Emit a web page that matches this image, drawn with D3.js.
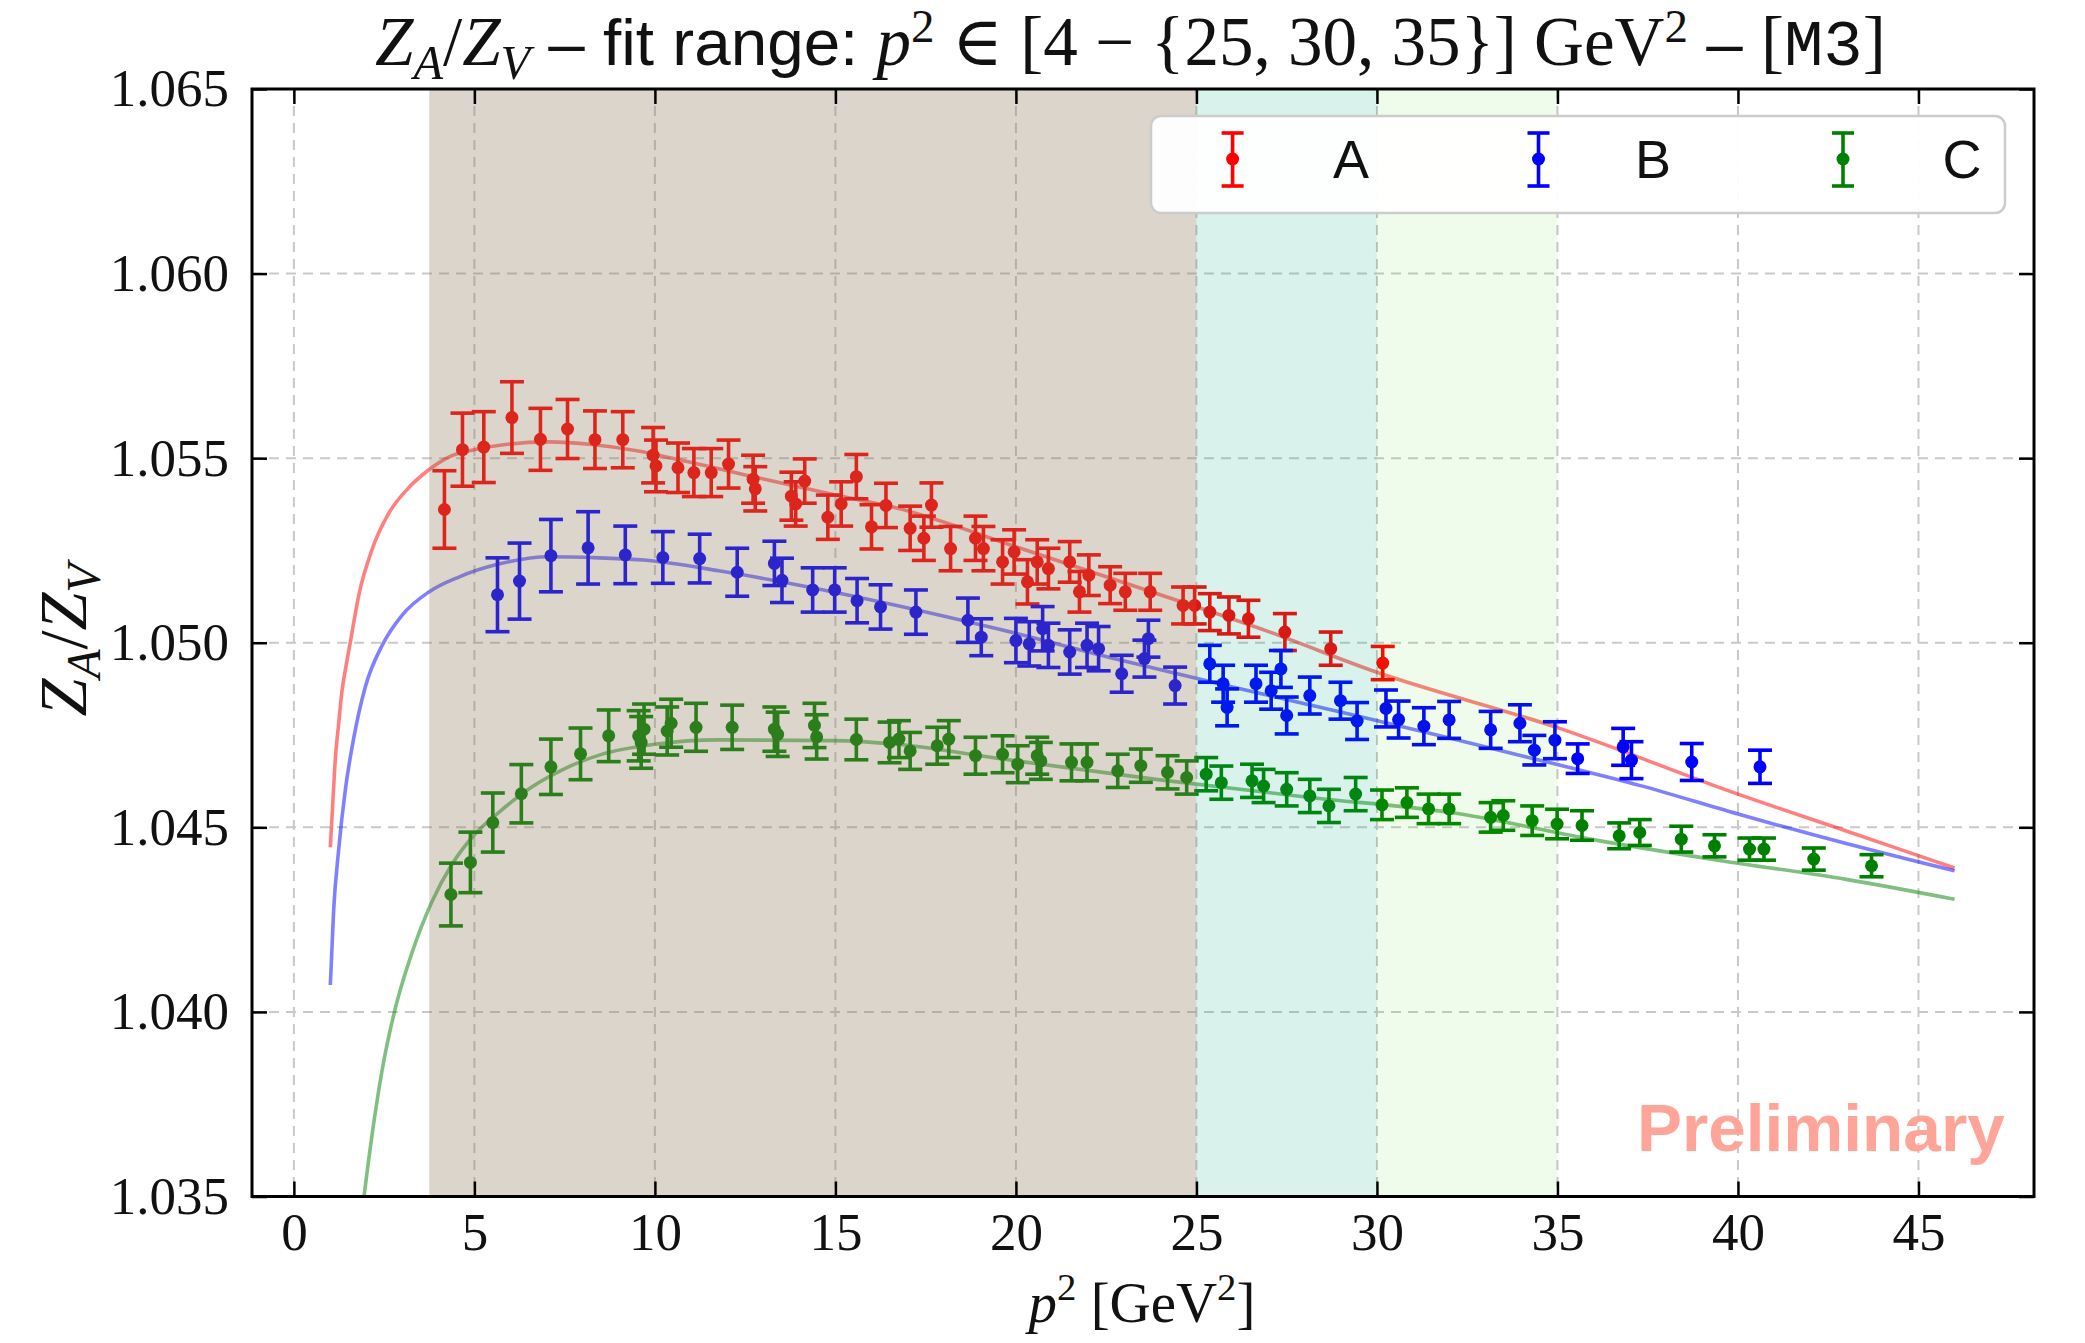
<!DOCTYPE html>
<html><head><meta charset="utf-8">
<script src="https://cdn.jsdelivr.net/npm/d3@7"></script>
<style>body{margin:0;background:#fff} text{white-space:pre}</style>
</head><body>
<svg id="chart" width="2085" height="1343"></svg>
<script>
// ---------- data ----------
const p2Ticks = [0,5,10,15,20,25,30,35,40,45];
const zTicks = [1.035,1.040,1.045,1.050,1.055,1.060,1.065];
const seriesLabels = ["A","B","C"];
const fitStart = 3.75;
const fitEnds = [25,30,35];

// [p^2, Z_A/Z_V, error]
const pointsA = [
[4.17,1.05361,0.00105],[4.67,1.05523,0.00099],[5.26,1.0553,0.00096],[6.04,1.0561,0.00097],
[6.83,1.05551,0.00084],[7.58,1.05579,0.0008],[8.34,1.0555,0.00078],[9.11,1.0555,0.00076],
[9.95,1.05508,0.00075],[10.03,1.05479,0.0007],[10.64,1.05474,0.00067],[11.08,1.05461,0.00065],
[11.56,1.05461,0.00065],[12.04,1.05484,0.00065],[12.72,1.05443,0.00065],[12.78,1.05417,0.0006],
[13.78,1.05397,0.00065],[13.9,1.05376,0.0006],[14.15,1.05438,0.0006],[14.79,1.0534,0.0006],
[15.16,1.05376,0.0006],[15.58,1.0545,0.0006],[16.0,1.05314,0.0006],[16.4,1.05372,0.0006],
[17.07,1.0531,0.0006],[17.45,1.05283,0.0006],[17.66,1.05373,0.0006],[18.19,1.05255,0.0006],
[18.88,1.05283,0.0006],[19.1,1.05255,0.0006],[19.63,1.05219,0.0006],[19.95,1.05246,0.0006],
[20.32,1.05165,0.0006],[20.59,1.05219,0.0006],[20.9,1.05201,0.00055],[21.49,1.05219,0.00055],
[21.76,1.05138,0.00055],[22.02,1.05183,0.00055],[22.61,1.05156,0.0005],[23.03,1.05138,0.0005],
[23.72,1.05138,0.0005],[24.63,1.05101,0.0005],[24.95,1.05101,0.0005],[25.37,1.05083,0.0005],
[25.9,1.05074,0.0005],[26.44,1.05065,0.0005],[27.45,1.05029,0.0005],[28.72,1.04984,0.00045],
[30.16,1.04945,0.00045]
];
const pointsB = [
[5.64,1.0513,0.001],[6.25,1.05167,0.00103],[7.12,1.05236,0.00098],[8.15,1.05257,0.00098],
[9.18,1.05238,0.00078],[10.22,1.05231,0.0007],[11.24,1.05228,0.00066],[12.28,1.05191,0.00065],
[13.31,1.05215,0.0006],[13.52,1.05169,0.0006],[14.37,1.05143,0.0006],[14.98,1.05143,0.0006],
[15.6,1.05114,0.0006],[16.25,1.05097,0.0006],[17.23,1.05083,0.0006],[18.67,1.05061,0.0006],
[19.04,1.05015,0.0005],[20.0,1.05006,0.0006],[20.37,1.04997,0.0006],[20.74,1.05038,0.0006],
[20.9,1.04993,0.0006],[21.49,1.04975,0.0006],[21.97,1.04993,0.0006],[22.29,1.04984,0.0006],
[22.93,1.04916,0.0005],[23.56,1.04957,0.0005],[23.67,1.05011,0.0005],[24.41,1.04884,0.0005],
[25.37,1.04943,0.0005],[25.74,1.04889,0.0005],[25.85,1.04825,0.0005],[26.65,1.04889,0.0005],
[27.07,1.0487,0.0005],[27.34,1.04929,0.0005],[27.5,1.04803,0.0005],[28.14,1.04857,0.0005],
[28.99,1.04843,0.0005],[29.45,1.04788,0.0005],[30.25,1.04822,0.0005],[30.6,1.04792,0.0005],
[31.3,1.04774,0.0005],[32.0,1.04791,0.0005],[33.15,1.04764,0.0005],[33.96,1.04782,0.0005],
[34.36,1.04709,0.0004],[34.93,1.04736,0.0005],[35.56,1.04686,0.0004],[36.82,1.04718,0.0005],
[37.05,1.04682,0.0005],[38.72,1.04677,0.0005],[40.61,1.04664,0.00045]
];
const pointsC = [
[4.35,1.04318,0.00085],[4.89,1.04405,0.00082],[5.51,1.04513,0.0008],[6.3,1.04591,0.00079],
[7.12,1.04664,0.00075],[7.94,1.04699,0.0007],[8.72,1.04748,0.0007],[9.55,1.04748,0.00068],
[9.62,1.0473,0.0007],[9.7,1.04766,0.00068],[10.34,1.04761,0.00065],[10.45,1.04782,0.00065],
[11.14,1.04771,0.00065],[12.14,1.04771,0.0006],[13.31,1.04766,0.0006],[13.4,1.04752,0.0006],
[14.42,1.04776,0.0006],[14.48,1.04745,0.0006],[15.58,1.04738,0.00055],[16.5,1.0473,0.00055],
[16.76,1.04739,0.0005],[17.07,1.04707,0.0005],[17.82,1.04721,0.0005],[18.14,1.04739,0.0005],
[18.88,1.04694,0.0005],[19.63,1.04698,0.0005],[20.05,1.04671,0.0005],[20.59,1.04694,0.0005],
[20.69,1.0468,0.0005],[21.54,1.04676,0.0005],[21.97,1.04676,0.0005],[22.82,1.04653,0.00045],
[23.46,1.04667,0.00045],[24.2,1.04649,0.00045],[24.73,1.04635,0.00045],[25.27,1.04644,0.00045],
[25.69,1.04621,0.00045],[26.54,1.04626,0.00045],[26.86,1.04612,0.00045],[27.5,1.04603,0.00045],
[28.14,1.04585,0.00045],[28.67,1.04558,0.00045],[29.41,1.0459,0.00045],[30.14,1.04561,0.0004],
[30.83,1.04567,0.0004],[31.43,1.0455,0.0004],[32.0,1.0455,0.0004],[33.15,1.04527,0.0004],
[33.5,1.04532,0.0004],[34.3,1.04518,0.0004],[34.99,1.04509,0.0004],[35.68,1.04505,0.0004],
[36.71,1.04477,0.00035],[37.28,1.04486,0.00035],[38.43,1.04468,0.00035],[39.35,1.0445,0.0003],
[40.32,1.04441,0.0003],[40.72,1.04441,0.0003],[42.1,1.04414,0.0003],[43.7,1.04396,0.0003]
];

// fit curves [p^2, value]
const fitA = [
[1.01,1.04446],[1.08,1.0457],[1.15,1.04688],[1.24,1.0478],[1.33,1.04867],[1.45,1.0494],
[1.57,1.05005],[1.8,1.0513],[2.17,1.05254],[2.63,1.05351],[3.18,1.0542],[3.73,1.05468],
[4.29,1.05503],[5.0,1.05523],[5.86,1.05537],[7.06,1.05544],[8.26,1.05537],[9.5,1.0552],
[10.7,1.05495],[12.8,1.05448],[15,1.054],[16.7,1.05365],[20,1.0526],[24,1.0513],
[27,1.0503],[30,1.0492],[35,1.0477],[40,1.0459],[43,1.0449],[46,1.0439]
];
const fitB = [
[1.01,1.04073],[1.1,1.04273],[1.24,1.04439],[1.43,1.04605],[1.66,1.04743],[1.98,1.04881],
[2.44,1.04992],[3.0,1.05075],[3.73,1.05137],[4.57,1.05178],[5.67,1.05213],[7.06,1.05233],
[8.44,1.0523],[9.7,1.05224],[11.77,1.05195],[13.89,1.05158],[16.7,1.05101],[19.6,1.05035],
[22.8,1.04955],[26,1.0488],[29.2,1.04808],[32,1.04742],[35,1.0467],[37.3,1.04613],
[40,1.04536],[43,1.04456],[46,1.04382]
];
const fitC = [
[1.75,1.0334],[1.93,1.0349],[2.17,1.0367],[2.44,1.0384],[2.81,1.0401],[3.27,1.0416],
[3.83,1.0430],[4.38,1.0440],[5.0,1.0448],[5.67,1.0454],[6.6,1.0461],[7.52,1.0466],
[8.5,1.04697],[10,1.04725],[11.77,1.04737],[14.95,1.04735],[16.7,1.04725],[19.63,1.04685],
[23.88,1.0463],[28.14,1.04581],[32.05,1.0454],[36.14,1.04464],[39.58,1.04409],[43,1.04359],
[46,1.04305]
];

// ---------- styles / layout ----------
const W = 2085, H = 1343;
const PL = 252, PR = 2034, PT = 89, PB = 1196.5;
const colors = ["#ff0000","#0000ff","#008000"];
const fitColors = ["rgba(255,0,0,0.5)","rgba(0,0,255,0.5)","rgba(0,128,0,0.5)"];
const spanStyles = [
  {fill:"rgb(142,119,90)", op:0.31},
  {fill:"rgb(0,168,128)", op:0.15},
  {fill:"rgb(67,217,0)", op:0.08}
];
const SERIF = "'Liberation Serif','DejaVu Serif',serif";
const SANS = "'Liberation Sans',Arial,sans-serif";
const MONO = "'Liberation Mono','DejaVu Sans Mono',monospace";

const svg = d3.select("#chart");
svg.append("rect").attr("width",W).attr("height",H).attr("fill","#fff");

const x = d3.scaleLinear().domain([-1.16, 48.2]).range([PL, PR]);
const y = d3.scaleLinear().domain([1.035, 1.065]).range([PB, PT]);

svg.append("clipPath").attr("id","plotclip").append("rect")
  .attr("x",PL).attr("y",PT).attr("width",PR-PL).attr("height",PB-PT);

// grid
const grid = svg.append("g").attr("stroke","#c9c9c9").attr("stroke-width",2).attr("stroke-dasharray","10,7");
grid.selectAll(".gx").data(p2Ticks).join("line").attr("class","gx")
  .attr("x1",d=>x(d)).attr("x2",d=>x(d)).attr("y1",PT).attr("y2",PB);
grid.selectAll(".gy").data(zTicks).join("line").attr("class","gy")
  .attr("y1",d=>y(d)).attr("y2",d=>y(d)).attr("x1",PL).attr("x2",PR);

const plot = svg.append("g").attr("clip-path","url(#plotclip)");

// fit lines
const line = d3.line().x(d=>x(d[0])).y(d=>y(d[1])).curve(d3.curveMonotoneX);
[fitA, fitB, fitC].forEach((f,i)=>{
  plot.append("path").datum(f).attr("d",line).attr("fill","none")
    .attr("stroke",fitColors[i]).attr("stroke-width",3.6);
});

// error bars
const cap = 12;
[pointsA, pointsB, pointsC].forEach((pts,i)=>{
  const g = plot.append("g").attr("stroke",colors[i]).attr("fill",colors[i]).attr("stroke-width",3.6);
  const e = g.selectAll("g").data(pts).join("g");
  e.append("line").attr("x1",d=>x(d[0])).attr("x2",d=>x(d[0]))
    .attr("y1",d=>y(d[1]-d[2])).attr("y2",d=>y(d[1]+d[2]));
  e.append("line").attr("x1",d=>x(d[0])-cap).attr("x2",d=>x(d[0])+cap)
    .attr("y1",d=>y(d[1]+d[2])).attr("y2",d=>y(d[1]+d[2]));
  e.append("line").attr("x1",d=>x(d[0])-cap).attr("x2",d=>x(d[0])+cap)
    .attr("y1",d=>y(d[1]-d[2])).attr("y2",d=>y(d[1]-d[2]));
  e.append("circle").attr("cx",d=>x(d[0])).attr("cy",d=>y(d[1])).attr("r",6.5).attr("stroke","none");
});

// fit range spans (drawn translucent on top)
const spanBounds = [[fitStart, fitEnds[0]],[fitEnds[0], fitEnds[1]],[fitEnds[1], fitEnds[2]]];
svg.append("g").selectAll("rect").data(spanBounds).join("rect")
  .attr("x",d=>x(d[0])).attr("width",d=>x(d[1])-x(d[0]))
  .attr("y",PT).attr("height",PB-PT)
  .attr("fill",(d,i)=>spanStyles[i].fill).attr("fill-opacity",(d,i)=>spanStyles[i].op);

// axes
const tickLen = 15;
const axB = svg.append("g").attr("transform",`translate(0,${PB})`)
  .call(d3.axisBottom(x).tickValues(p2Ticks).tickSize(-tickLen).tickPadding(16).tickFormat(d3.format("d")));
const axL = svg.append("g").attr("transform",`translate(${PL},0)`)
  .call(d3.axisLeft(y).tickValues(zTicks).tickSize(-tickLen).tickPadding(23).tickFormat(d3.format(".3f")));
const axT = svg.append("g").attr("transform",`translate(0,${PT})`)
  .call(d3.axisTop(x).tickValues(p2Ticks).tickSize(-tickLen).tickFormat(""));
const axR = svg.append("g").attr("transform",`translate(${PR},0)`)
  .call(d3.axisRight(y).tickValues(zTicks).tickSize(-tickLen).tickFormat(""));
[axB,axL,axT,axR].forEach(a=>{
  a.select(".domain").remove();
  a.selectAll(".tick line").attr("stroke","#000").attr("stroke-width",2.5);
  a.selectAll("text").attr("font-family",SERIF).attr("font-size",53).attr("fill","#111");
});
svg.append("rect").attr("x",PL).attr("y",PT).attr("width",PR-PL).attr("height",PB-PT)
  .attr("fill","none").attr("stroke","#000").attr("stroke-width",3);

// rich text helper
function rich(parent, pieces, fs, anchor){
  const t = parent.append("text").attr("text-anchor",anchor).attr("fill","#111");
  let prev = 0;
  pieces.forEach(p=>{
    const sz = fs*(p.s||1);
    const sh = (p.sh||0)*fs;
    t.append("tspan").text(p.t).attr("font-family",p.f).attr("font-style",p.i?"italic":"normal")
      .attr("font-size",sz).attr("dy",sh-prev);
    prev = sh;
  });
  return t;
}
function fitted(parent, pieces, fs, anchor, target){
  let t = rich(parent, pieces, fs, anchor);
  const w = t.node().getBBox().width;
  t.remove();
  return rich(parent, pieces, fs*target/w, anchor);
}

// title
const titlePieces = [
  {t:"Z",f:SERIF,i:1},{t:"A",f:SERIF,i:1,s:0.7,sh:0.2},{t:"/",f:SERIF},{t:"Z",f:SERIF,i:1},
  {t:"V",f:SERIF,i:1,s:0.7,sh:0.2},{t:" \u2013 fit range: ",f:SANS,s:0.95},{t:"p",f:SERIF,i:1},
  {t:"2",f:SERIF,s:0.68,sh:-0.34},{t:" \u2208 [4 \u2212 {25, 30, 35}] GeV",f:SERIF},
  {t:"2",f:SERIF,s:0.68,sh:-0.34},{t:" \u2013 ",f:SANS,s:0.95},{t:"[",f:SERIF},{t:"M3",f:MONO,s:0.95},{t:"]",f:SERIF}
];
fitted(svg.append("g").attr("transform","translate(375,65)"), titlePieces, 60, "start", 1511);

// axis labels
const xlabPieces = [{t:"p",f:SERIF,i:1},{t:"2",f:SERIF,s:0.68,sh:-0.38},{t:" [GeV",f:SERIF},{t:"2",f:SERIF,s:0.68,sh:-0.38},{t:"]",f:SERIF}];
fitted(svg.append("g").attr("transform","translate(1142,1322)"), xlabPieces, 56, "middle", 231);
const ylabPieces = [{t:"Z",f:SERIF,i:1},{t:"A",f:SERIF,i:1,s:0.7,sh:0.2},{t:"/",f:SERIF},{t:"Z",f:SERIF,i:1},{t:"V",f:SERIF,i:1,s:0.7,sh:0.2}];
fitted(svg.append("g").attr("transform","translate(86,640) rotate(-90)"), ylabPieces, 56, "middle", 158);

// legend
const lg = svg.append("g");
lg.append("rect").attr("x",1151).attr("y",116).attr("width",854).attr("height",97).attr("rx",10)
  .attr("fill","#fff").attr("fill-opacity",0.95).attr("stroke","#cccccc").attr("stroke-width",2.5);
const legX = [1232.6, 1538.5, 1843];
const legTX = [1351, 1653, 1962];
seriesLabels.forEach((lab,i)=>{
  const g = lg.append("g").attr("stroke",colors[i]).attr("fill",colors[i]).attr("stroke-width",3.6);
  g.append("line").attr("x1",legX[i]).attr("x2",legX[i]).attr("y1",133).attr("y2",186);
  g.append("line").attr("x1",legX[i]-11).attr("x2",legX[i]+11).attr("y1",133).attr("y2",133);
  g.append("line").attr("x1",legX[i]-11).attr("x2",legX[i]+11).attr("y1",186).attr("y2",186);
  g.append("circle").attr("cx",legX[i]).attr("cy",159).attr("r",6.5).attr("stroke","none");
  lg.append("text").attr("x",legTX[i]).attr("y",178).attr("text-anchor","middle")
    .attr("font-family",SANS).attr("font-size",54).attr("fill","#111").text(lab);
});

// watermark
const pre = svg.append("text").attr("x",1637).attr("y",1151).attr("font-family",SANS)
  .attr("font-weight","bold").attr("font-size",66).attr("fill","#ffa498").text("Preliminary");
const pw = pre.node().getBBox().width;
pre.attr("font-size",66*368/pw);
</script>
</body></html>
